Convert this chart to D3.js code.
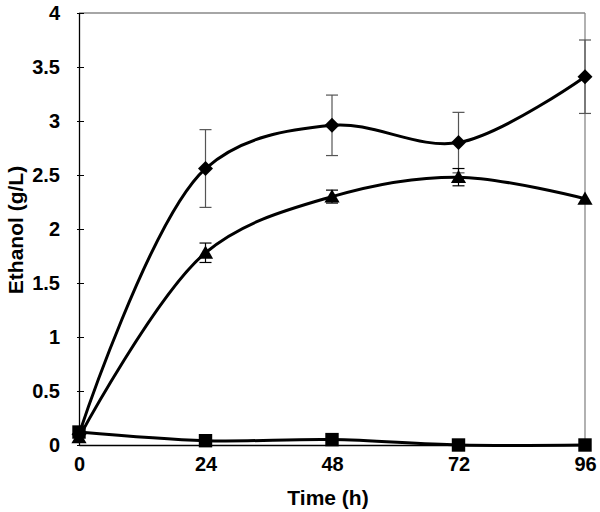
<!DOCTYPE html>
<html><head><meta charset="utf-8">
<script src="https://cdn.jsdelivr.net/npm/d3@7"></script>
<style>body{margin:0;background:#fff}</style>
</head><body>
<svg id="c" width="600" height="512"></svg>
<script>
const times = [0, 24, 48, 72, 96];
const diamondVals = [0.10, 2.56, 2.96, 2.80, 3.41];
const diamondErr = [0.02, 0.36, 0.28, 0.28, 0.34];
const triangleVals = [0.07, 1.78, 2.30, 2.48, 2.28];
const triangleErr = [0.02, 0.09, 0.06, 0.08, 0.00];
const squareVals = [0.12, 0.04, 0.05, 0.00, 0.00];
const squareErr = [0.00, 0.00, 0.00, 0.00, 0.00];
const yTicks = [0, 0.5, 1, 1.5, 2, 2.5, 3, 3.5, 4];
const xTicks = [0, 24, 48, 72, 96];

const svg = d3.select("#c");
const L = 79, R = 585, T = 13, B = 445;
const x = d3.scaleLinear().domain([0, 96]).range([L, R]);
const y = d3.scaleLinear().domain([0, 4]).range([B, T]);
const font = "'Liberation Sans', Arial, sans-serif";

// frame top/right
svg.append("line").attr("x1", L).attr("x2", R).attr("y1", T).attr("y2", T).attr("stroke", "#888").attr("stroke-width", 1.3);
svg.append("line").attr("x1", R).attr("x2", R).attr("y1", T).attr("y2", B).attr("stroke", "#888").attr("stroke-width", 1.3);

// y axis
const yAxis = d3.axisLeft(y).tickValues(yTicks).tickSizeInner(-5).tickSizeOuter(0).tickPadding(19).tickFormat(d3.format("~g"));
const gy = svg.append("g").attr("transform", `translate(${L},0)`).call(yAxis);
gy.select(".domain").attr("stroke", "#000").attr("stroke-width", 1.3);
gy.selectAll(".tick line").attr("stroke", "#000").attr("x1", -2);
gy.selectAll("text").attr("font-family", font).style("font-size", "20px").attr("font-weight", "bold").attr("fill", "#000");

// x axis
const xAxis = d3.axisBottom(x).tickValues(xTicks).tickSize(0).tickPadding(12).tickSizeOuter(0);
const gx = svg.append("g").attr("transform", `translate(0,${B})`).call(xAxis);
gx.select(".domain").attr("stroke", "#000").attr("stroke-width", 1.3);
gx.selectAll("text").attr("font-family", font).style("font-size", "20px").attr("font-weight", "bold").attr("fill", "#000");

// titles
svg.append("text").attr("x", 328).attr("y", 505).attr("text-anchor", "middle")
  .attr("font-family", font).style("font-size", "21px").attr("font-weight", "bold").text("Time (h)");
svg.append("text").attr("transform", `translate(23,230) rotate(-90)`).attr("text-anchor", "middle")
  .attr("font-family", font).style("font-size", "21px").attr("font-weight", "bold").text("Ethanol (g/L)");

const series = [
  { vals: diamondVals, err: diamondErr, sym: d3.symbolSquare, rot: 45, size: 112, errColor: "#555" },
  { vals: triangleVals, err: triangleErr, sym: d3.symbolTriangle, rot: 0, size: 100, errColor: "#000" },
  { vals: squareVals, err: squareErr, sym: d3.symbolSquare, rot: 0, size: 180, errColor: "#000" }
];

const line = d3.line().x((d, i) => x(times[i])).y(d => y(d)).curve(d3.curveCatmullRom.alpha(0.5));

series.forEach(s => {
  const g = svg.append("g");
  times.forEach((t, i) => {
    if (s.err[i] <= 0.03) return;
    const cx = x(t), y1 = y(s.vals[i] + s.err[i]), y2 = y(s.vals[i] - s.err[i]);
    g.append("line").attr("x1", cx).attr("x2", cx).attr("y1", y1).attr("y2", y2).attr("stroke", s.errColor).attr("stroke-width", 1.2);
    [y1, y2].forEach(yy => g.append("line").attr("x1", cx - 6).attr("x2", cx + 6).attr("y1", yy).attr("y2", yy).attr("stroke", s.errColor).attr("stroke-width", 1.2));
  });
  g.append("path").datum(s.vals).attr("d", line).attr("fill", "none").attr("stroke", "#000").attr("stroke-width", 3);
  g.selectAll(".m").data(s.vals).enter().append("path")
    .attr("transform", (d, i) => `translate(${x(times[i])},${y(d) + (s.sym === d3.symbolTriangle ? 1.5 : 0)}) rotate(${s.rot})`)
    .attr("d", d3.symbol().type(s.sym).size(s.size)).attr("fill", "#000");
});
</script>
</body></html>
